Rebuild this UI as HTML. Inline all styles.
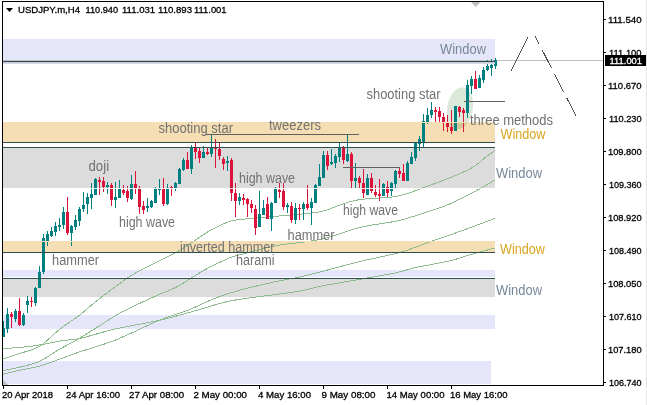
<!DOCTYPE html>
<html><head><meta charset="utf-8"><style>
html,body{margin:0;padding:0;background:#fff;width:647px;height:405px;overflow:hidden}
svg{display:block;font-family:"Liberation Sans",sans-serif}
rect{shape-rendering:crispEdges}
</style></head><body>
<svg width="647" height="405" viewBox="0 0 647 405">
<rect x="0" y="0" width="647" height="405" fill="#FFFFFF"/>
<rect x="646" y="0" width="1" height="405" fill="#E3E3E3"/>
<rect x="3" y="39" width="492" height="25" fill="#E6E6FA"/>
<rect x="3" y="122" width="492" height="20" fill="#F5DEB3"/>
<rect x="3" y="148" width="492" height="40" fill="#DCDCDC"/>
<rect x="3" y="241" width="492" height="11" fill="#F5DEB3"/>
<rect x="3" y="270" width="492" height="7" fill="#E6E6FA"/>
<rect x="3" y="279" width="492" height="18" fill="#DCDCDC"/>
<rect x="3" y="315" width="492" height="14" fill="#E6E6FA"/>
<rect x="3" y="361" width="488" height="23" fill="#E6E6FA"/>
<rect x="3" y="60" width="600" height="1" fill="#C0C0C0"/>
<ellipse cx="460" cy="108.3" rx="12.8" ry="21" transform="rotate(10 460 108.3)" fill="#DCE8D9" style="mix-blend-mode:multiply"/>
<path d="M3,348.4 C5.8,348.2 13.9,348.1 20,347.5 C26.1,346.9 32.3,346.2 39.5,345 C46.7,343.8 56.5,341.6 63.2,340.5 C70.0,339.4 71.3,340.4 80,338.5 C88.7,336.6 102.3,331.9 115.6,328.9 C128.9,325.8 146.3,323.3 160,320.2 C173.7,317.1 186.3,313.2 198,310 C209.7,306.8 217.7,303.5 230,301 C242.3,298.5 260.3,296.6 272,295 C283.7,293.4 292.0,292.5 300,291.1 C308.0,289.7 310.0,288.4 320,286.4 C330.0,284.4 347.2,281.6 360,279.3 C372.8,277.0 388.0,274.5 397,272.6 C406.0,270.7 407.8,269.2 414,267.8 C420.2,266.4 427.5,265.3 434,264 C440.5,262.7 446.8,261.6 453,260 C459.2,258.4 464.0,256.5 471,254.5 C478.0,252.5 491.0,249.1 495,248" fill="none" stroke="#8FBC8F" stroke-width="1" shape-rendering="crispEdges"/>
<path d="M3,374.3 C5.8,373.6 13.7,371.6 19.8,370.2 C25.9,368.8 32.9,368.0 39.5,366.2 C46.1,364.4 52.5,361.7 59.3,359.3 C66.0,356.9 70.6,355.0 80,351.8 C89.4,348.6 102.3,345.3 115.6,340 C128.9,334.7 147.8,325.0 160,320 C172.2,315.0 179.6,313.6 188.7,310 C197.8,306.4 205.8,301.8 214.3,298.5 C222.9,295.2 229.6,293.0 240,290.1 C250.4,287.2 267.0,283.6 277,281.4 C287.0,279.2 292.8,278.6 300,277 C307.2,275.4 310.0,274.6 320,272 C330.0,269.4 346.7,264.8 360,261.5 C373.3,258.2 388.4,255.7 400,252.4 C411.6,249.2 419.7,245.4 429.6,242 C439.5,238.6 448.3,235.6 459.2,231.7 C470.1,227.8 489.0,220.6 495,218.4" fill="none" stroke="#8FBC8F" stroke-width="1" shape-rendering="crispEdges"/>
<path d="M3,359 C5.8,358.1 13.7,355.5 19.8,353.4 C25.9,351.3 32.9,350.4 39.5,346.4 C46.1,342.4 52.5,334.9 59.3,329.6 C66.0,324.3 73.6,319.7 80,314.8 C86.4,309.9 89.5,306.4 97.8,300 C106.1,293.6 120.8,282.3 130,276.3 C139.2,270.3 145.5,267.9 153.2,263.9 C160.9,259.9 169.3,256.3 176.4,252.3 C183.5,248.3 190.6,243.2 196,239.7 C201.4,236.2 205.0,233.5 208.6,231.3 C212.2,229.1 214.7,228.2 217.8,226.7 C220.9,225.2 224.5,223.4 227.1,222.3 C229.7,221.2 231.3,220.9 233.6,220.4 C235.9,219.9 238.4,219.9 241,219.6 C243.6,219.3 243.0,219.1 249.4,218.5 C255.8,217.9 267.7,217.1 279.5,216 C291.3,214.9 309.9,213.6 320,211.8 C330.1,210.0 333.3,207.1 340,205 C346.7,202.9 350.5,200.9 360,199.5 C369.5,198.1 386.4,198.3 397,196.3 C407.6,194.3 413.3,191.3 423.7,187.6 C434.1,183.9 450.8,177.5 459.2,174 C467.6,170.5 469.6,169.4 474,166.6 C478.4,163.8 482.3,159.7 485.8,157 C489.3,154.3 493.5,151.6 495,150.5" fill="none" stroke="#8FBC8F" stroke-width="1" shape-rendering="crispEdges"/>
<path d="M3,370.5 C5.8,369.9 13.7,368.7 19.8,367.2 C25.9,365.7 32.9,364.3 39.5,361.3 C46.1,358.3 52.5,353.3 59.3,349.4 C66.0,345.5 70.6,343.6 80,338 C89.4,332.4 107.3,320.6 115.6,315.6 C123.9,310.6 123.7,311.1 130,308 C136.3,304.9 145.5,300.6 153.2,297.1 C160.9,293.6 170.0,290.3 176.4,287.1 C182.8,283.9 186.7,280.9 191.8,277.8 C197.0,274.7 200.9,271.9 207.3,268.5 C213.7,265.1 224.6,260.0 230,257.7 C235.4,255.4 232.2,256.8 240,254.8 C247.8,252.8 263.7,248.2 277,245.6 C290.3,243.0 306.2,242.5 320,239.5 C333.8,236.5 347.2,230.5 360,227.4 C372.8,224.3 386.9,223.2 397,221 C407.1,218.8 412.3,216.7 420.7,214 C429.1,211.3 437.9,208.9 447.3,205 C456.7,201.1 469.1,194.5 477,190.3 C484.9,186.1 492.0,181.7 495,180" fill="none" stroke="#8FBC8F" stroke-width="1" shape-rendering="crispEdges"/>
<rect x="3" y="321" width="1" height="16" fill="#008080"/>
<rect x="3" y="328" width="2" height="9" fill="#008080"/>
<rect x="7" y="308" width="1" height="25" fill="#008080"/>
<rect x="6" y="314" width="3" height="15" fill="#008080"/>
<rect x="11" y="312" width="1" height="16" fill="#DC143C"/>
<rect x="10" y="314" width="3" height="3" fill="#DC143C"/>
<rect x="15" y="309" width="1" height="13" fill="#008080"/>
<rect x="14" y="311" width="3" height="8" fill="#008080"/>
<rect x="19" y="298" width="1" height="28" fill="#DC143C"/>
<rect x="18" y="311" width="3" height="14" fill="#DC143C"/>
<rect x="23" y="313" width="1" height="13" fill="#008080"/>
<rect x="22" y="315" width="3" height="10" fill="#008080"/>
<rect x="27" y="296" width="1" height="17" fill="#008080"/>
<rect x="26" y="301" width="3" height="4" fill="#008080"/>
<rect x="31" y="297" width="1" height="10" fill="#DC143C"/>
<rect x="30" y="301" width="3" height="1" fill="#DC143C"/>
<rect x="35" y="287" width="1" height="19" fill="#008080"/>
<rect x="34" y="288" width="3" height="15" fill="#008080"/>
<rect x="39" y="266" width="1" height="22" fill="#008080"/>
<rect x="38" y="272" width="3" height="16" fill="#008080"/>
<rect x="43" y="234" width="1" height="40" fill="#008080"/>
<rect x="42" y="238" width="3" height="34" fill="#008080"/>
<rect x="47" y="231" width="1" height="15" fill="#008080"/>
<rect x="46" y="234" width="3" height="7" fill="#008080"/>
<rect x="51" y="227" width="1" height="10" fill="#008080"/>
<rect x="50" y="231" width="3" height="5" fill="#008080"/>
<rect x="55" y="222" width="1" height="14" fill="#008080"/>
<rect x="54" y="226" width="3" height="6" fill="#008080"/>
<rect x="59" y="218" width="1" height="13" fill="#008080"/>
<rect x="58" y="225" width="3" height="2" fill="#008080"/>
<rect x="63" y="207" width="1" height="22" fill="#008080"/>
<rect x="62" y="212" width="3" height="13" fill="#008080"/>
<rect x="67" y="197" width="1" height="38" fill="#DC143C"/>
<rect x="66" y="212" width="3" height="21" fill="#DC143C"/>
<rect x="71" y="225" width="1" height="21" fill="#008080"/>
<rect x="70" y="226" width="3" height="7" fill="#008080"/>
<rect x="75" y="215" width="1" height="15" fill="#008080"/>
<rect x="74" y="220" width="3" height="7" fill="#008080"/>
<rect x="79" y="207" width="1" height="19" fill="#008080"/>
<rect x="78" y="209" width="3" height="12" fill="#008080"/>
<rect x="83" y="192" width="1" height="20" fill="#008080"/>
<rect x="82" y="205" width="3" height="4" fill="#008080"/>
<rect x="87" y="193" width="1" height="21" fill="#008080"/>
<rect x="86" y="197" width="3" height="7" fill="#008080"/>
<rect x="91" y="183" width="1" height="26" fill="#008080"/>
<rect x="90" y="194" width="3" height="4" fill="#008080"/>
<rect x="95" y="178" width="1" height="17" fill="#008080"/>
<rect x="94" y="179" width="3" height="16" fill="#008080"/>
<rect x="99" y="177" width="1" height="18" fill="#DC143C"/>
<rect x="98" y="180" width="3" height="2" fill="#DC143C"/>
<rect x="103" y="177" width="1" height="15" fill="#DC143C"/>
<rect x="102" y="181" width="3" height="6" fill="#DC143C"/>
<rect x="107" y="182" width="1" height="12" fill="#008080"/>
<rect x="106" y="185" width="3" height="2" fill="#008080"/>
<rect x="111" y="183" width="1" height="23" fill="#DC143C"/>
<rect x="110" y="185" width="3" height="15" fill="#DC143C"/>
<rect x="115" y="182" width="1" height="26" fill="#008080"/>
<rect x="114" y="197" width="3" height="3" fill="#008080"/>
<rect x="119" y="180" width="1" height="18" fill="#008080"/>
<rect x="118" y="189" width="3" height="9" fill="#008080"/>
<rect x="123" y="185" width="1" height="10" fill="#DC143C"/>
<rect x="122" y="190" width="3" height="3" fill="#DC143C"/>
<rect x="127" y="186" width="1" height="16" fill="#DC143C"/>
<rect x="126" y="191" width="3" height="7" fill="#DC143C"/>
<rect x="131" y="175" width="1" height="25" fill="#008080"/>
<rect x="130" y="184" width="3" height="15" fill="#008080"/>
<rect x="135" y="171" width="1" height="23" fill="#DC143C"/>
<rect x="134" y="184" width="3" height="4" fill="#DC143C"/>
<rect x="139" y="186" width="1" height="28" fill="#DC143C"/>
<rect x="138" y="188" width="3" height="19" fill="#DC143C"/>
<rect x="143" y="201" width="1" height="13" fill="#DC143C"/>
<rect x="142" y="206" width="3" height="4" fill="#DC143C"/>
<rect x="147" y="198" width="1" height="14" fill="#008080"/>
<rect x="146" y="206" width="3" height="2" fill="#008080"/>
<rect x="151" y="200" width="1" height="8" fill="#008080"/>
<rect x="150" y="201" width="3" height="6" fill="#008080"/>
<rect x="155" y="187" width="1" height="16" fill="#008080"/>
<rect x="154" y="189" width="3" height="14" fill="#008080"/>
<rect x="159" y="179" width="1" height="16" fill="#008080"/>
<rect x="158" y="188" width="3" height="2" fill="#008080"/>
<rect x="163" y="178" width="1" height="28" fill="#DC143C"/>
<rect x="162" y="189" width="3" height="15" fill="#DC143C"/>
<rect x="167" y="184" width="1" height="21" fill="#008080"/>
<rect x="166" y="188" width="3" height="16" fill="#008080"/>
<rect x="171" y="186" width="1" height="10" fill="#DC143C"/>
<rect x="170" y="187" width="3" height="1" fill="#DC143C"/>
<rect x="175" y="182" width="1" height="9" fill="#008080"/>
<rect x="174" y="183" width="3" height="5" fill="#008080"/>
<rect x="179" y="168" width="1" height="16" fill="#008080"/>
<rect x="178" y="169" width="3" height="15" fill="#008080"/>
<rect x="183" y="158" width="1" height="13" fill="#008080"/>
<rect x="182" y="160" width="3" height="10" fill="#008080"/>
<rect x="187" y="152" width="1" height="17" fill="#DC143C"/>
<rect x="186" y="160" width="3" height="9" fill="#DC143C"/>
<rect x="191" y="145" width="1" height="29" fill="#008080"/>
<rect x="190" y="148" width="3" height="21" fill="#008080"/>
<rect x="195" y="143" width="1" height="16" fill="#DC143C"/>
<rect x="194" y="148" width="3" height="4" fill="#DC143C"/>
<rect x="199" y="148" width="1" height="15" fill="#DC143C"/>
<rect x="198" y="151" width="3" height="7" fill="#DC143C"/>
<rect x="203" y="146" width="1" height="12" fill="#008080"/>
<rect x="202" y="152" width="3" height="6" fill="#008080"/>
<rect x="207" y="147" width="1" height="8" fill="#DC143C"/>
<rect x="206" y="152" width="3" height="2" fill="#DC143C"/>
<rect x="211" y="134" width="1" height="23" fill="#008080"/>
<rect x="210" y="148" width="3" height="6" fill="#008080"/>
<rect x="215" y="139" width="1" height="29" fill="#DC143C"/>
<rect x="214" y="147" width="3" height="2" fill="#DC143C"/>
<rect x="219" y="143" width="1" height="17" fill="#DC143C"/>
<rect x="218" y="149" width="3" height="7" fill="#DC143C"/>
<rect x="223" y="157" width="1" height="13" fill="#DC143C"/>
<rect x="222" y="159" width="3" height="5" fill="#DC143C"/>
<rect x="227" y="156" width="1" height="15" fill="#008080"/>
<rect x="226" y="161" width="3" height="2" fill="#008080"/>
<rect x="231" y="158" width="1" height="43" fill="#DC143C"/>
<rect x="230" y="160" width="3" height="33" fill="#DC143C"/>
<rect x="235" y="183" width="1" height="34" fill="#DC143C"/>
<rect x="234" y="193" width="3" height="8" fill="#DC143C"/>
<rect x="239" y="193" width="1" height="12" fill="#008080"/>
<rect x="238" y="197" width="3" height="4" fill="#008080"/>
<rect x="243" y="194" width="1" height="11" fill="#DC143C"/>
<rect x="242" y="198" width="3" height="2" fill="#DC143C"/>
<rect x="247" y="198" width="1" height="19" fill="#DC143C"/>
<rect x="246" y="199" width="3" height="5" fill="#DC143C"/>
<rect x="251" y="200" width="1" height="13" fill="#DC143C"/>
<rect x="250" y="204" width="3" height="4" fill="#DC143C"/>
<rect x="255" y="205" width="1" height="30" fill="#DC143C"/>
<rect x="254" y="209" width="3" height="19" fill="#DC143C"/>
<rect x="259" y="191" width="1" height="36" fill="#008080"/>
<rect x="258" y="214" width="3" height="13" fill="#008080"/>
<rect x="263" y="200" width="1" height="15" fill="#008080"/>
<rect x="262" y="208" width="3" height="7" fill="#008080"/>
<rect x="267" y="197" width="1" height="22" fill="#DC143C"/>
<rect x="266" y="204" width="3" height="15" fill="#DC143C"/>
<rect x="271" y="202" width="1" height="29" fill="#008080"/>
<rect x="270" y="203" width="3" height="16" fill="#008080"/>
<rect x="275" y="187" width="1" height="16" fill="#008080"/>
<rect x="274" y="189" width="3" height="14" fill="#008080"/>
<rect x="279" y="183" width="1" height="15" fill="#DC143C"/>
<rect x="278" y="190" width="3" height="2" fill="#DC143C"/>
<rect x="283" y="183" width="1" height="27" fill="#DC143C"/>
<rect x="282" y="191" width="3" height="16" fill="#DC143C"/>
<rect x="287" y="203" width="1" height="10" fill="#008080"/>
<rect x="286" y="205" width="3" height="2" fill="#008080"/>
<rect x="291" y="202" width="1" height="21" fill="#DC143C"/>
<rect x="290" y="206" width="3" height="14" fill="#DC143C"/>
<rect x="295" y="203" width="1" height="21" fill="#008080"/>
<rect x="294" y="208" width="3" height="12" fill="#008080"/>
<rect x="299" y="204" width="1" height="16" fill="#DC143C"/>
<rect x="298" y="208" width="3" height="1" fill="#DC143C"/>
<rect x="303" y="202" width="1" height="18" fill="#008080"/>
<rect x="302" y="204" width="3" height="5" fill="#008080"/>
<rect x="307" y="185" width="1" height="25" fill="#DC143C"/>
<rect x="306" y="204" width="3" height="4" fill="#DC143C"/>
<rect x="311" y="198" width="1" height="27" fill="#008080"/>
<rect x="310" y="202" width="3" height="6" fill="#008080"/>
<rect x="315" y="184" width="1" height="19" fill="#008080"/>
<rect x="314" y="185" width="3" height="18" fill="#008080"/>
<rect x="319" y="164" width="1" height="22" fill="#008080"/>
<rect x="318" y="177" width="3" height="9" fill="#008080"/>
<rect x="323" y="151" width="1" height="27" fill="#008080"/>
<rect x="322" y="155" width="3" height="23" fill="#008080"/>
<rect x="327" y="151" width="1" height="19" fill="#DC143C"/>
<rect x="326" y="155" width="3" height="11" fill="#DC143C"/>
<rect x="331" y="149" width="1" height="16" fill="#008080"/>
<rect x="330" y="162" width="3" height="2" fill="#008080"/>
<rect x="335" y="154" width="1" height="14" fill="#008080"/>
<rect x="334" y="156" width="3" height="7" fill="#008080"/>
<rect x="339" y="143" width="1" height="19" fill="#008080"/>
<rect x="338" y="148" width="3" height="9" fill="#008080"/>
<rect x="343" y="146" width="1" height="18" fill="#DC143C"/>
<rect x="342" y="148" width="3" height="12" fill="#DC143C"/>
<rect x="347" y="134" width="1" height="28" fill="#008080"/>
<rect x="346" y="154" width="3" height="7" fill="#008080"/>
<rect x="351" y="152" width="1" height="36" fill="#DC143C"/>
<rect x="350" y="154" width="3" height="27" fill="#DC143C"/>
<rect x="355" y="163" width="1" height="25" fill="#008080"/>
<rect x="354" y="178" width="3" height="3" fill="#008080"/>
<rect x="359" y="176" width="1" height="12" fill="#DC143C"/>
<rect x="358" y="178" width="3" height="5" fill="#DC143C"/>
<rect x="363" y="169" width="1" height="29" fill="#DC143C"/>
<rect x="362" y="183" width="3" height="10" fill="#DC143C"/>
<rect x="367" y="174" width="1" height="21" fill="#008080"/>
<rect x="366" y="178" width="3" height="17" fill="#008080"/>
<rect x="371" y="173" width="1" height="20" fill="#DC143C"/>
<rect x="370" y="178" width="3" height="13" fill="#DC143C"/>
<rect x="375" y="185" width="1" height="12" fill="#DC143C"/>
<rect x="374" y="192" width="3" height="3" fill="#DC143C"/>
<rect x="379" y="179" width="1" height="22" fill="#DC143C"/>
<rect x="378" y="194" width="3" height="2" fill="#DC143C"/>
<rect x="383" y="183" width="1" height="13" fill="#008080"/>
<rect x="382" y="184" width="3" height="12" fill="#008080"/>
<rect x="387" y="181" width="1" height="16" fill="#DC143C"/>
<rect x="386" y="187" width="3" height="6" fill="#DC143C"/>
<rect x="391" y="182" width="1" height="14" fill="#008080"/>
<rect x="390" y="183" width="3" height="8" fill="#008080"/>
<rect x="395" y="170" width="1" height="18" fill="#008080"/>
<rect x="394" y="171" width="3" height="13" fill="#008080"/>
<rect x="399" y="167" width="1" height="11" fill="#DC143C"/>
<rect x="398" y="171" width="3" height="3" fill="#DC143C"/>
<rect x="403" y="164" width="1" height="17" fill="#DC143C"/>
<rect x="402" y="173" width="3" height="8" fill="#DC143C"/>
<rect x="407" y="161" width="1" height="20" fill="#008080"/>
<rect x="406" y="163" width="3" height="18" fill="#008080"/>
<rect x="411" y="152" width="1" height="12" fill="#008080"/>
<rect x="410" y="157" width="3" height="7" fill="#008080"/>
<rect x="415" y="142" width="1" height="19" fill="#008080"/>
<rect x="414" y="143" width="3" height="15" fill="#008080"/>
<rect x="419" y="136" width="1" height="15" fill="#008080"/>
<rect x="418" y="139" width="3" height="5" fill="#008080"/>
<rect x="423" y="114" width="1" height="33" fill="#008080"/>
<rect x="422" y="121" width="3" height="21" fill="#008080"/>
<rect x="427" y="108" width="1" height="16" fill="#008080"/>
<rect x="426" y="115" width="3" height="7" fill="#008080"/>
<rect x="431" y="102" width="1" height="16" fill="#008080"/>
<rect x="430" y="110" width="3" height="5" fill="#008080"/>
<rect x="435" y="107" width="1" height="15" fill="#DC143C"/>
<rect x="434" y="110" width="3" height="2" fill="#DC143C"/>
<rect x="439" y="107" width="1" height="15" fill="#DC143C"/>
<rect x="438" y="111" width="3" height="6" fill="#DC143C"/>
<rect x="443" y="113" width="1" height="18" fill="#DC143C"/>
<rect x="442" y="117" width="3" height="5" fill="#DC143C"/>
<rect x="447" y="115" width="1" height="17" fill="#DC143C"/>
<rect x="446" y="123" width="3" height="4" fill="#DC143C"/>
<rect x="451" y="110" width="1" height="24" fill="#DC143C"/>
<rect x="450" y="127" width="3" height="4" fill="#DC143C"/>
<rect x="455" y="106" width="1" height="25" fill="#008080"/>
<rect x="454" y="106" width="3" height="25" fill="#008080"/>
<rect x="459" y="106" width="1" height="11" fill="#DC143C"/>
<rect x="458" y="107" width="3" height="5" fill="#DC143C"/>
<rect x="463" y="108" width="1" height="24" fill="#DC143C"/>
<rect x="462" y="110" width="3" height="3" fill="#DC143C"/>
<rect x="467" y="80" width="1" height="38" fill="#008080"/>
<rect x="466" y="85" width="3" height="28" fill="#008080"/>
<rect x="471" y="76" width="1" height="18" fill="#008080"/>
<rect x="470" y="79" width="3" height="7" fill="#008080"/>
<rect x="475" y="71" width="1" height="18" fill="#DC143C"/>
<rect x="474" y="79" width="3" height="10" fill="#DC143C"/>
<rect x="479" y="75" width="1" height="13" fill="#008080"/>
<rect x="478" y="78" width="3" height="10" fill="#008080"/>
<rect x="483" y="67" width="1" height="16" fill="#008080"/>
<rect x="482" y="70" width="3" height="10" fill="#008080"/>
<rect x="487" y="60" width="1" height="11" fill="#008080"/>
<rect x="486" y="66" width="3" height="4" fill="#008080"/>
<rect x="491" y="59" width="1" height="17" fill="#008080"/>
<rect x="490" y="65" width="3" height="3" fill="#008080"/>
<rect x="495" y="58" width="1" height="11" fill="#008080"/>
<rect x="494" y="60" width="3" height="6" fill="#008080"/>
<rect x="3" y="62" width="492" height="1" fill="#C8C8DA"/>
<rect x="3" y="63" width="492" height="1" fill="#D8D8E6"/>
<rect x="3" y="122" width="492" height="1" fill="#F5DEB3" style="mix-blend-mode:lighten"/>
<rect x="3" y="241" width="492" height="1" fill="#F5DEB3" style="mix-blend-mode:lighten"/>
<rect x="3" y="188" width="492" height="1" fill="#EBEBEB" style="mix-blend-mode:lighten"/>
<rect x="3" y="61" width="492" height="1" fill="#2F4F4F"/>
<rect x="3" y="142" width="492" height="1" fill="#2F4F4F"/>
<rect x="3" y="147" width="492" height="1" fill="#2F4F4F"/>
<rect x="3" y="252" width="492" height="1" fill="#2F4F4F"/>
<rect x="3" y="278" width="492" height="1" fill="#2F4F4F"/>
<rect x="206" y="134" width="153" height="1" fill="#606060"/>
<rect x="343" y="167" width="57" height="1" fill="#606060"/>
<rect x="464" y="101" width="41" height="1" fill="#606060"/>
<line x1="511" y1="71.3" x2="528" y2="37" stroke="#505050" stroke-width="1" shape-rendering="crispEdges"/>
<line x1="535" y1="36" x2="576" y2="116" stroke="#505050" stroke-width="1" shape-rendering="crispEdges" stroke-dasharray="20 7" stroke-dashoffset="11"/>
<polygon points="3,380 3,385 8.5,385" fill="#C0C0C0"/>
<polygon points="471,2 480.5,2 475.7,7" fill="#C0C0C0"/>
<rect x="2" y="1" width="602" height="1" fill="#000"/>
<rect x="2" y="1" width="1" height="385" fill="#000"/>
<rect x="603" y="1" width="1" height="385" fill="#000"/>
<rect x="2" y="385" width="602" height="1" fill="#000"/>
<polygon points="6,8 13,8 9.5,12" fill="#000"/>
<rect x="604" y="19" width="2" height="1" fill="#000"/>
<rect x="604" y="52" width="2" height="1" fill="#000"/>
<rect x="604" y="85" width="2" height="1" fill="#000"/>
<rect x="604" y="118" width="2" height="1" fill="#000"/>
<rect x="604" y="151" width="2" height="1" fill="#000"/>
<rect x="604" y="184" width="2" height="1" fill="#000"/>
<rect x="604" y="217" width="2" height="1" fill="#000"/>
<rect x="604" y="250" width="2" height="1" fill="#000"/>
<rect x="604" y="283" width="2" height="1" fill="#000"/>
<rect x="604" y="316" width="2" height="1" fill="#000"/>
<rect x="604" y="349" width="2" height="1" fill="#000"/>
<rect x="604" y="382" width="2" height="1" fill="#000"/>
<text x="18.00" y="12.90" font-size="9.7" textLength="62.01" lengthAdjust="spacingAndGlyphs" fill="#000" stroke="#000" stroke-width="0.3">USDJPY.m,H4</text>
<text x="85.50" y="12.90" font-size="9.7" textLength="32.56" lengthAdjust="spacingAndGlyphs" fill="#000" stroke="#000" stroke-width="0.3">110.940</text>
<text x="122.00" y="12.90" font-size="9.7" textLength="33.10" lengthAdjust="spacingAndGlyphs" fill="#000" stroke="#000" stroke-width="0.3">111.031</text>
<text x="158.00" y="12.90" font-size="9.7" textLength="34.04" lengthAdjust="spacingAndGlyphs" fill="#000" stroke="#000" stroke-width="0.3">110.893</text>
<text x="194.00" y="12.90" font-size="9.7" textLength="32.55" lengthAdjust="spacingAndGlyphs" fill="#000" stroke="#000" stroke-width="0.3">111.001</text>
<text x="366.50" y="98.80" font-size="14" textLength="74.02" lengthAdjust="spacingAndGlyphs" fill="#727272" stroke="#727272" stroke-width="0">shooting star</text>
<text x="470.00" y="124.70" font-size="14" textLength="83.02" lengthAdjust="spacingAndGlyphs" fill="#727272" stroke="#727272" stroke-width="0">three methods</text>
<text x="440.00" y="53.70" font-size="14" textLength="45.98" lengthAdjust="spacingAndGlyphs" fill="#778899" stroke="#778899" stroke-width="0">Window</text>
<text x="500.50" y="138.60" font-size="14" textLength="44.96" lengthAdjust="spacingAndGlyphs" fill="#DAA520" stroke="#DAA520" stroke-width="0">Window</text>
<text x="158.50" y="133.20" font-size="14" textLength="74.51" lengthAdjust="spacingAndGlyphs" fill="#727272" stroke="#727272" stroke-width="0">shooting star</text>
<text x="269.00" y="130.00" font-size="14" textLength="52.03" lengthAdjust="spacingAndGlyphs" fill="#727272" stroke="#727272" stroke-width="0">tweezers</text>
<text x="88.50" y="170.70" font-size="14" textLength="20.64" lengthAdjust="spacingAndGlyphs" fill="#727272" stroke="#727272" stroke-width="0">doji</text>
<text x="119.00" y="226.70" font-size="14" textLength="56.02" lengthAdjust="spacingAndGlyphs" fill="#727272" stroke="#727272" stroke-width="0">high wave</text>
<text x="239.00" y="182.70" font-size="14" textLength="56.02" lengthAdjust="spacingAndGlyphs" fill="#727272" stroke="#727272" stroke-width="0">high wave</text>
<text x="343.00" y="214.80" font-size="14" textLength="55.00" lengthAdjust="spacingAndGlyphs" fill="#727272" stroke="#727272" stroke-width="0">high wave</text>
<text x="287.50" y="239.80" font-size="14" textLength="47.03" lengthAdjust="spacingAndGlyphs" fill="#727272" stroke="#727272" stroke-width="0">hammer</text>
<text x="180.00" y="251.60" font-size="14" textLength="94.51" lengthAdjust="spacingAndGlyphs" fill="#727272" stroke="#727272" stroke-width="0">inverted hammer</text>
<text x="236.00" y="265.20" font-size="14" textLength="38.55" lengthAdjust="spacingAndGlyphs" fill="#727272" stroke="#727272" stroke-width="0">harami</text>
<text x="52.00" y="265.30" font-size="14" textLength="47.04" lengthAdjust="spacingAndGlyphs" fill="#727272" stroke="#727272" stroke-width="0">hammer</text>
<text x="496.00" y="177.70" font-size="14" textLength="45.96" lengthAdjust="spacingAndGlyphs" fill="#778899" stroke="#778899" stroke-width="0">Window</text>
<text x="500.00" y="253.70" font-size="14" textLength="44.96" lengthAdjust="spacingAndGlyphs" fill="#DAA520" stroke="#DAA520" stroke-width="0">Window</text>
<text x="496.00" y="294.60" font-size="14" textLength="45.98" lengthAdjust="spacingAndGlyphs" fill="#778899" stroke="#778899" stroke-width="0">Window</text>
<text x="608.00" y="22.50" font-size="9.7" textLength="33.67" lengthAdjust="spacingAndGlyphs" fill="#000" stroke="#000" stroke-width="0.3">111.540</text>
<text x="609.00" y="55.50" font-size="9.7" textLength="32.55" lengthAdjust="spacingAndGlyphs" fill="#000" stroke="#000" stroke-width="0.3">111.100</text>
<text x="608.00" y="88.50" font-size="9.7" textLength="33.61" lengthAdjust="spacingAndGlyphs" fill="#000" stroke="#000" stroke-width="0.3">110.670</text>
<text x="609.00" y="121.50" font-size="9.7" textLength="32.55" lengthAdjust="spacingAndGlyphs" fill="#000" stroke="#000" stroke-width="0.3">110.230</text>
<text x="608.00" y="154.50" font-size="9.7" textLength="33.66" lengthAdjust="spacingAndGlyphs" fill="#000" stroke="#000" stroke-width="0.3">109.800</text>
<text x="609.00" y="187.50" font-size="9.7" textLength="32.57" lengthAdjust="spacingAndGlyphs" fill="#000" stroke="#000" stroke-width="0.3">109.360</text>
<text x="608.00" y="220.50" font-size="9.7" textLength="33.66" lengthAdjust="spacingAndGlyphs" fill="#000" stroke="#000" stroke-width="0.3">108.920</text>
<text x="609.00" y="253.50" font-size="9.7" textLength="32.57" lengthAdjust="spacingAndGlyphs" fill="#000" stroke="#000" stroke-width="0.3">108.490</text>
<text x="608.00" y="286.50" font-size="9.7" textLength="33.66" lengthAdjust="spacingAndGlyphs" fill="#000" stroke="#000" stroke-width="0.3">108.050</text>
<text x="609.00" y="319.50" font-size="9.7" textLength="32.57" lengthAdjust="spacingAndGlyphs" fill="#000" stroke="#000" stroke-width="0.3">107.610</text>
<text x="608.00" y="352.50" font-size="9.7" textLength="33.66" lengthAdjust="spacingAndGlyphs" fill="#000" stroke="#000" stroke-width="0.3">107.180</text>
<text x="609.00" y="385.50" font-size="9.7" textLength="32.57" lengthAdjust="spacingAndGlyphs" fill="#000" stroke="#000" stroke-width="0.3">106.740</text>
<text x="2.00" y="398.00" font-size="9.7" textLength="51.02" lengthAdjust="spacingAndGlyphs" fill="#000" stroke="#000" stroke-width="0.3">20 Apr 2018</text>
<text x="66.00" y="398.00" font-size="9.7" textLength="54.02" lengthAdjust="spacingAndGlyphs" fill="#000" stroke="#000" stroke-width="0.3">24 Apr 16:00</text>
<text x="129.00" y="398.00" font-size="9.7" textLength="55.04" lengthAdjust="spacingAndGlyphs" fill="#000" stroke="#000" stroke-width="0.3">27 Apr 08:00</text>
<text x="193.50" y="398.00" font-size="9.7" textLength="53.54" lengthAdjust="spacingAndGlyphs" fill="#000" stroke="#000" stroke-width="0.3">2 May 00:00</text>
<text x="258.00" y="398.00" font-size="9.7" textLength="53.01" lengthAdjust="spacingAndGlyphs" fill="#000" stroke="#000" stroke-width="0.3">4 May 16:00</text>
<text x="321.50" y="398.00" font-size="9.7" textLength="53.99" lengthAdjust="spacingAndGlyphs" fill="#000" stroke="#000" stroke-width="0.3">9 May 08:00</text>
<text x="386.50" y="398.00" font-size="9.7" textLength="58.01" lengthAdjust="spacingAndGlyphs" fill="#000" stroke="#000" stroke-width="0.3">14 May 00:00</text>
<text x="450.00" y="398.00" font-size="9.7" textLength="57.49" lengthAdjust="spacingAndGlyphs" fill="#000" stroke="#000" stroke-width="0.3">16 May 16:00</text>
<rect x="605" y="55" width="41" height="11" fill="#000"/>
<text x="609.50" y="64.00" font-size="9.7" textLength="32.57" lengthAdjust="spacingAndGlyphs" fill="#FFF" stroke="#FFF" stroke-width="0.3">111.001</text>
<rect x="3" y="386" width="1" height="3" fill="#000"/>
<rect x="67" y="386" width="1" height="3" fill="#000"/>
<rect x="131" y="386" width="1" height="3" fill="#000"/>
<rect x="195" y="386" width="1" height="3" fill="#000"/>
<rect x="259" y="386" width="1" height="3" fill="#000"/>
<rect x="323" y="386" width="1" height="3" fill="#000"/>
<rect x="387" y="386" width="1" height="3" fill="#000"/>
<rect x="451" y="386" width="1" height="3" fill="#000"/>
</svg></body></html>
